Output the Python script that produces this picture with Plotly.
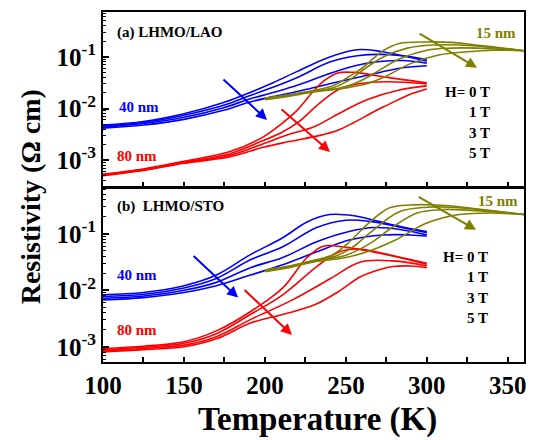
import plotly.graph_objects as go

# ---------------- data ----------------
fields = ["0 T", "1 T", "3 T", "5 T"]

# Panel (a) LHMO/LAO, 40 nm (blue)
a40_T = [100, 125, 150, 175, 190, 205, 220, 240, 257, 271, 285, 300]
a40_rho = [
    [4.79e-3, 5.62e-3, 7.94e-3, 1.32e-2, 2.00e-2, 3.16e-2, 5.25e-2, 0.100, 0.138, 0.129, 0.105, 0.0832],
    [4.57e-3, 5.37e-3, 7.41e-3, 1.17e-2, 1.74e-2, 2.57e-2, 3.98e-2, 7.94e-2, 0.105, 0.112, 0.105, 0.0891],
    [4.37e-3, 5.13e-3, 6.76e-3, 1.05e-2, 1.51e-2, 2.04e-2, 2.82e-2, 4.79e-2, 6.92e-2, 8.13e-2, 8.51e-2, 7.59e-2],
    [4.17e-3, 4.79e-3, 6.17e-3, 9.33e-3, 1.32e-2, 1.70e-2, 2.14e-2, 3.02e-2, 3.98e-2, 5.01e-2, 6.17e-2, 6.76e-2],
]
# Panel (a) 80 nm (red)
a80_T = [
    [100, 125, 150, 178, 199, 210, 220, 230, 237, 245, 255, 270, 285, 300],
    [100, 125, 150, 178, 199, 210, 220, 234, 246, 258, 275, 300],
    [100, 125, 150, 178, 199, 215, 230, 246, 263, 283, 300],
    [100, 125, 150, 178, 199, 215, 234, 245, 255, 265, 273, 283, 290, 300],
]
a80_rho = [
    [5.37e-4, 6.76e-4, 9.55e-4, 1.45e-3, 2.82e-3, 5.01e-3, 9.33e-3, 2.19e-2, 3.55e-2, 4.90e-2, 5.01e-2, 4.27e-2, 3.63e-2, 3.16e-2],
    [5.25e-4, 6.61e-4, 9.12e-4, 1.32e-3, 2.40e-3, 3.39e-3, 5.25e-3, 1.29e-2, 2.40e-2, 3.02e-2, 3.31e-2, 3.02e-2],
    [5.13e-4, 6.46e-4, 8.91e-4, 1.23e-3, 2.09e-3, 3.16e-3, 4.37e-3, 8.13e-3, 1.48e-2, 2.29e-2, 2.75e-2],
    [5.01e-4, 6.31e-4, 8.71e-4, 1.15e-3, 1.78e-3, 2.29e-3, 3.02e-3, 3.80e-3, 5.37e-3, 7.94e-3, 1.07e-2, 1.51e-2, 1.91e-2, 2.40e-2],
]
# Panel (a) 15 nm (olive)
a15_T = [
    [200, 215, 230, 242, 252, 260, 273, 283, 300, 315, 330, 345, 360],
    [200, 215, 230, 242, 252, 263, 273, 288, 304, 320, 335, 360],
    [200, 215, 230, 245, 255, 263, 283, 300, 315, 331, 345, 360],
    [200, 215, 230, 250, 263, 273, 290, 308, 325, 341, 360],
]
a15_rho = [
    [1.58e-2, 1.86e-2, 2.24e-2, 2.75e-2, 4.17e-2, 6.03e-2, 0.132, 0.182, 0.195, 0.191, 0.170, 0.151, 0.132],
    [1.55e-2, 1.82e-2, 2.19e-2, 2.51e-2, 3.55e-2, 6.31e-2, 0.100, 0.148, 0.170, 0.170, 0.158, 0.132],
    [1.51e-2, 1.78e-2, 2.14e-2, 2.45e-2, 3.02e-2, 3.98e-2, 9.12e-2, 0.135, 0.148, 0.148, 0.141, 0.132],
    [1.48e-2, 1.74e-2, 2.09e-2, 2.51e-2, 3.02e-2, 3.98e-2, 7.41e-2, 0.110, 0.126, 0.135, 0.132],
]

# Panel (b) LHMO/STO, 40 nm (blue)
b40_T = [
    [100, 125, 150, 170, 191, 211, 226, 240, 255, 270, 285, 300],
    [100, 125, 150, 170, 191, 211, 232, 250, 265, 280, 300],
    [100, 125, 150, 170, 191, 211, 232, 252, 268, 285, 300],
    [100, 125, 150, 170, 191, 211, 232, 252, 273, 290, 300],
]
b40_rho = [
    [8.32e-3, 9.12e-3, 1.20e-2, 1.86e-2, 4.27e-2, 8.51e-2, 0.162, 0.219, 0.209, 0.166, 0.132, 0.110],
    [7.76e-3, 8.51e-3, 1.10e-2, 1.62e-2, 3.47e-2, 5.89e-2, 0.129, 0.174, 0.166, 0.138, 0.105],
    [7.24e-3, 7.94e-3, 1.00e-2, 1.38e-2, 2.51e-2, 3.80e-2, 7.24e-2, 0.110, 0.129, 0.117, 9.55e-2],
    [6.76e-3, 7.41e-3, 9.12e-3, 1.20e-2, 1.86e-2, 2.82e-2, 4.79e-2, 7.76e-2, 9.55e-2, 9.55e-2, 9.12e-2],
]
# Panel (b) 80 nm (red)
b80_T = [
    [100, 125, 150, 170, 191, 211, 226, 236, 250, 270, 300],
    [100, 125, 150, 170, 191, 211, 232, 245, 258, 275, 300],
    [100, 125, 150, 170, 191, 217, 240, 259, 279, 300],
    [100, 125, 150, 170, 191, 205, 220, 232, 245, 259, 270, 279, 290, 300],
]
b80_rho = [
    [9.33e-4, 1.02e-3, 1.23e-3, 1.91e-3, 4.17e-3, 1.10e-2, 3.80e-2, 6.03e-2, 5.75e-2, 4.57e-2, 3.02e-2],
    [8.91e-4, 9.77e-4, 1.15e-3, 1.70e-3, 3.72e-3, 8.32e-3, 2.63e-2, 4.68e-2, 5.37e-2, 4.37e-2, 2.88e-2],
    [8.51e-4, 9.33e-4, 1.07e-3, 1.51e-3, 3.02e-3, 6.76e-3, 1.58e-2, 3.16e-2, 3.31e-2, 2.69e-2],
    [8.13e-4, 8.91e-4, 1.00e-3, 1.38e-3, 2.63e-3, 3.39e-3, 4.37e-3, 5.75e-3, 9.33e-3, 1.74e-2, 2.29e-2, 2.63e-2, 2.69e-2, 2.51e-2],
]
# Panel (b) 15 nm (olive)
b15_T = [
    [200, 215, 230, 242, 252, 263, 277, 290, 305, 320, 340, 360],
    [200, 215, 230, 245, 255, 265, 283, 300, 315, 335, 360],
    [200, 215, 230, 250, 265, 279, 294, 310, 325, 340, 360],
    [200, 215, 230, 250, 265, 280, 300, 320, 341, 360],
]
b15_rho = [
    [2.29e-2, 2.69e-2, 3.39e-2, 4.27e-2, 7.08e-2, 0.145, 0.288, 0.324, 0.324, 0.302, 0.257, 0.219],
    [2.24e-2, 2.63e-2, 3.31e-2, 4.17e-2, 6.03e-2, 0.105, 0.245, 0.295, 0.295, 0.263, 0.219],
    [2.19e-2, 2.57e-2, 3.24e-2, 4.17e-2, 6.76e-2, 0.132, 0.234, 0.269, 0.263, 0.245, 0.219],
    [2.14e-2, 2.51e-2, 3.16e-2, 3.80e-2, 5.01e-2, 7.59e-2, 0.155, 0.219, 0.234, 0.219],
]

x_ticks = [100, 150, 200, 250, 300, 350]
y_ticks = [1e-3, 1e-2, 1e-1]
y_ticktext = ["10<sup>-3</sup>", "10<sup>-2</sup>", "10<sup>-1</sup>"]

BLUE, RED, OLIVE = "#0000FF", "#FF0000", "#808000"
FONT = "Liberation Serif, Times New Roman, serif"

fig = go.Figure()

def add_family(Ts, rhos, color, xa, ya, name):
    for i, r in enumerate(rhos):
        T = Ts[i] if isinstance(Ts[0], list) else Ts
        fig.add_trace(go.Scatter(
            x=T, y=r, mode="lines", xaxis=xa, yaxis=ya,
            name=f"{name} {fields[i]}", showlegend=False,
            line=dict(color=color, width=1.6, shape="spline", smoothing=1.0),
        ))

add_family(a40_T, a40_rho, BLUE, "x", "y", "40 nm")
add_family(a80_T, a80_rho, RED, "x", "y", "80 nm")
add_family(a15_T, a15_rho, OLIVE, "x", "y", "15 nm")
add_family(b40_T, b40_rho, BLUE, "x2", "y2", "40 nm")
add_family(b80_T, b80_rho, RED, "x2", "y2", "80 nm")
add_family(b15_T, b15_rho, OLIVE, "x2", "y2", "15 nm")

minor_y = [k * 10.0 ** e for e in range(-4, 1) for k in range(2, 10)]

xcommon = dict(
    range=[100, 360], showgrid=False, zeroline=False, automargin=False,
    showline=True, linecolor="black", linewidth=2, mirror=True,
    ticks="inside", ticklen=5, tickwidth=1.5, tickcolor="black",
    tickvals=x_ticks,
    minor=dict(dtick=25, tick0=100, ticks="inside", ticklen=5, tickwidth=1.5, tickcolor="black"),
    tickfont=dict(family=FONT, size=25, color="black", weight="bold"),
)
ycommon = dict(
    type="log", showgrid=False, zeroline=False, automargin=False,
    showline=True, linecolor="black", linewidth=2, mirror=True,
    ticks="inside", ticklen=6, tickwidth=1.5, tickcolor="black",
    tickvals=y_ticks, ticktext=y_ticktext,
    minor=dict(tickvals=minor_y, ticks="inside", ticklen=3, tickwidth=1, tickcolor="black"),
    tickfont=dict(family=FONT, size=25, color="black", weight="bold"),
)

# the page adds an 8 px body margin, so the margins compensate for it
fig.update_layout(
    width=536, height=440,
    margin=dict(l=95, r=20, t=4, b=86, autoexpand=False),
    paper_bgcolor="white", plot_bgcolor="white",
    xaxis=dict(xcommon, domain=[0, 1], anchor="y", showticklabels=False),
    xaxis2=dict(xcommon, domain=[0, 1], anchor="y2", showticklabels=True),
    yaxis=dict(ycommon, domain=[0.5, 1], anchor="x", range=[-3.52, -0.13]),
    yaxis2=dict(ycommon, domain=[0, 0.497], anchor="x2", range=[-3.27, -0.19]),
)

ann = []
def txt(x, y, s, color, xa, ya, xanchor="left", size=15):
    ann.append(dict(x=x, y=y, xref=xa, yref=ya, text=s, showarrow=False,
                    xanchor=xanchor, yanchor="middle",
                    font=dict(family=FONT, size=size, color=color, weight="bold")))

def arrow(tx, ty, hx, hy, color, xa, ya):
    ann.append(dict(x=hx, y=hy, ax=tx, ay=ty, xref=xa, yref=ya, axref=xa, ayref=ya,
                    text="", showarrow=True, arrowhead=2, arrowsize=1.1,
                    arrowwidth=2, arrowcolor=color))

# panel (a)
txt(107.4, -0.53, "(a) LHMO/LAO", "black", "x", "y")
txt(108.6, -1.97, "40 nm", BLUE, "x", "y")
txt(107.4, -2.92, "80 nm", RED, "x", "y")
txt(356.3, -0.53, "15 nm", OLIVE, "x", "y", xanchor="right")
txt(340.3, -1.68, "H= 0 T", "black", "x", "y", xanchor="right")
txt(340.3, -2.07, "1 T", "black", "x", "y", xanchor="right")
txt(340.3, -2.48, "3 T", "black", "x", "y", xanchor="right")
txt(340.3, -2.86, "5 T", "black", "x", "y", xanchor="right")
arrow(173.5, -1.41, 201.3, -2.22, BLUE, "x", "y")
arrow(209.3, -1.99, 240.2, -2.84, RED, "x", "y")
arrow(294.6, -0.53, 331.0, -1.21, OLIVE, "x", "y")

# panel (b)
txt(107.4, -0.52, "(b)  LHMO/STO", "black", "x2", "y2")
txt(107.4, -1.73, "40 nm", BLUE, "x2", "y2")
txt(107.4, -2.70, "80 nm", RED, "x2", "y2")
txt(357.6, -0.42, "15 nm", OLIVE, "x2", "y2", xanchor="right")
txt(339.0, -1.41, "H= 0 T", "black", "x2", "y2", xanchor="right")
txt(339.0, -1.76, "1 T", "black", "x2", "y2", xanchor="right")
txt(339.0, -2.13, "3 T", "black", "x2", "y2", xanchor="right")
txt(339.0, -2.49, "5 T", "black", "x2", "y2", xanchor="right")
arrow(155.0, -1.37, 183.4, -2.13, BLUE, "x2", "y2")
arrow(186.5, -1.97, 216.7, -2.79, RED, "x2", "y2")
arrow(294.0, -0.33, 330.4, -0.93, OLIVE, "x2", "y2")

# axis titles
ann.append(dict(x=-0.173, y=0.471, xref="paper", yref="paper", text="Resistivity (Ω cm)",
                textangle=-90, showarrow=False, xanchor="center", yanchor="middle",
                font=dict(family=FONT, size=28, color="black", weight="bold")))
ann.append(dict(x=0.51, y=-0.165, xref="paper", yref="paper", text="Temperature (K)",
                showarrow=False, xanchor="center", yanchor="middle",
                font=dict(family=FONT, size=33, color="black", weight="bold")))

fig.update_layout(annotations=ann)
fig.write_html("out.html")
